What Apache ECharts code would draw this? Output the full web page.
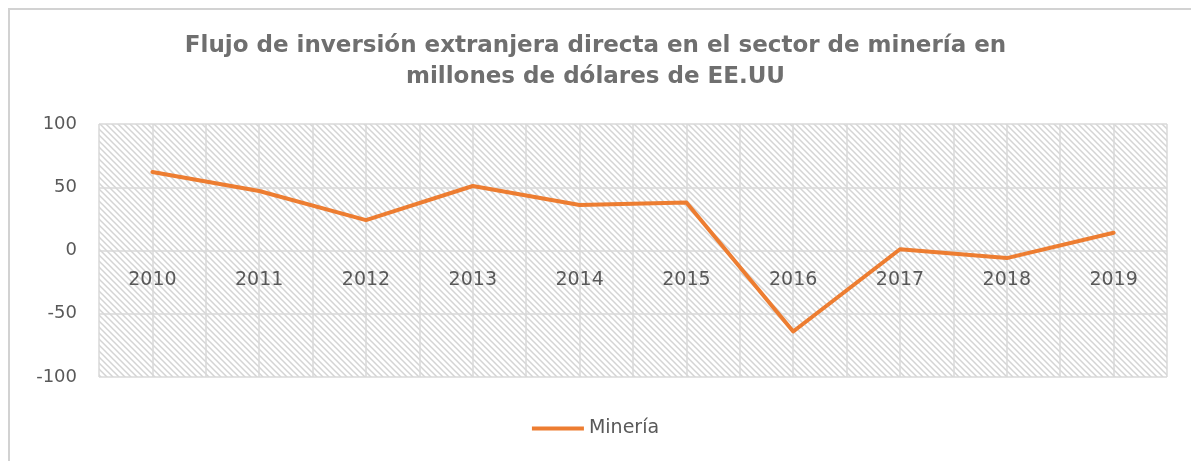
<!DOCTYPE html>
<html>
<head>
<meta charset="utf-8">
<script src="https://cdn.jsdelivr.net/npm/echarts@6/dist/echarts.min.js"></script>
<style>
html,body{margin:0;padding:0;background:#fff;}
#frame{position:absolute;left:8px;top:8px;width:1183px;height:453px;border-top:2px solid #d2d2d2;border-left:2px solid #d2d2d2;box-sizing:border-box;}
#chart{position:absolute;left:0;top:0;width:1191px;height:461px;}
</style>
</head>
<body>
<div id="frame"></div>
<div id="chart"></div>
<script>
const categories = ['2010','2011','2012','2013','2014','2015','2016','2017','2018','2019'];
const mineria = [62, 47, 24, 51, 36, 38, -64, 1, -6, 14];
const yTicks = [-100, -50, 0, 50, 100];
const seriesName = 'Minería';
const titleText = 'Flujo de inversión extranjera directa en el sector de minería en\nmillones de dólares de EE.UU';

// hatch pattern
const P = 6;
const pc = document.createElement('canvas');
pc.width = P; pc.height = P;
const ctx = pc.getContext('2d');
ctx.fillStyle = '#ffffff';
ctx.fillRect(0,0,P,P);
ctx.strokeStyle = '#d4d4d4';
ctx.lineWidth = 1.5;
ctx.beginPath();
ctx.moveTo(-1,-1); ctx.lineTo(P+1,P+1);
ctx.moveTo(-P-1,-1); ctx.lineTo(1,P+1);
ctx.moveTo(P-1,-1); ctx.lineTo(2*P+1,P+1);
ctx.stroke();

const halfCats = [];
categories.forEach(c => { halfCats.push(c + 'a'); halfCats.push(c + 'b'); });

const FONT = 'DejaVu Sans';
const chart = echarts.init(document.getElementById('chart'), null, {renderer:'canvas'});
chart.setOption({
  animation: false,
  backgroundColor: 'transparent',
  title: {
    text: titleText,
    left: 'center',
    top: 26,
    textStyle: {fontFamily: FONT, fontWeight: 'bold', fontSize: 23, color: '#6f6f6f', lineHeight: 31}
  },
  legend: {
    data: [seriesName],
    bottom: 18,
    left: 'center',
    icon: 'rect',
    itemWidth: 52,
    itemHeight: 4,
    itemGap: 6,
    textStyle: {fontFamily: FONT, fontSize: 19, color: '#595959'}
  },
  grid: {
    left: 99, right: 24, top: 124, bottom: 84,
    show: true,
    backgroundColor: {image: pc, repeat: 'repeat'},
    borderWidth: 0
  },
  xAxis: [{
    type: 'category',
    data: categories,
    boundaryGap: true,
    position: 'bottom',
    offset: -126.5,
    axisLine: {show: false, onZero: false},
    axisTick: {show: false},
    splitLine: {show: false},
    axisLabel: {margin: 20, fontFamily: FONT, fontSize: 19, color: '#595959'}
  }, {
    type: 'category',
    data: halfCats,
    boundaryGap: true,
    position: 'bottom',
    axisLine: {show: false},
    axisTick: {show: false},
    axisLabel: {show: false},
    splitLine: {show: true, interval: 0, lineStyle: {color: '#d9d9d9', width: 1.5}}
  }],
  yAxis: {
    type: 'value',
    min: yTicks[0], max: yTicks[yTicks.length-1], interval: 50,
    axisLine: {show: false},
    axisTick: {show: false},
    axisLabel: {margin: 22, fontFamily: FONT, fontSize: 18, color: '#595959'},
    splitLine: {show: true, lineStyle: {color: '#d9d9d9', width: 1.5}}
  },
  series: [{
    name: seriesName,
    type: 'line',
    data: mineria,
    xAxisIndex: 0,
    symbol: 'none',
    lineStyle: {color: '#ed7d31', width: 4, cap: 'round', join: 'round'},
    itemStyle: {color: '#ed7d31'}
  }]
});
</script>
</body>
</html>
